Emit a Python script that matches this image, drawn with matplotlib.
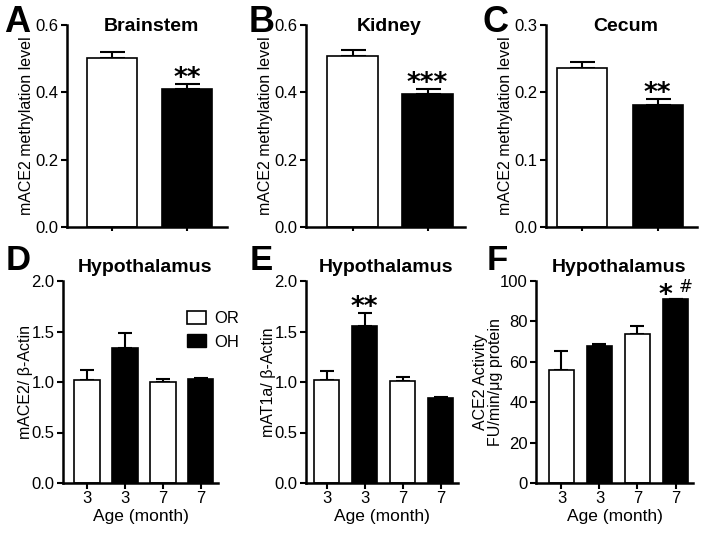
import matplotlib
matplotlib.use('Agg')
import matplotlib.pyplot as plt
from matplotlib.patches import Patch

plt.rcParams['font.family'] = ['Liberation Sans', 'DejaVu Sans']

# top row: methylation level, OR vs OH
top_titles = ['Brainstem', 'Kidney', 'Cecum']
top_mean = [[0.502, 0.409], [0.509, 0.394], [0.236, 0.181]]
top_err = [[0.017, 0.016], [0.017, 0.015], [0.009, 0.009]]
top_stars = ['**', '***', '**']
top_ymax = [0.6, 0.6, 0.3]
top_yticks = [[0.0, 0.2, 0.4, 0.6], [0.0, 0.2, 0.4, 0.6], [0.0, 0.1, 0.2, 0.3]]

# bottom row: hypothalamus by age
ages = ['3', '3', '7', '7']
bot_ylabels = ['mACE2/ β-Actin', 'mAT1a/ β-Actin', 'ACE2 Activity\nFU/min/μg protein']
bot_mean = [[1.016, 1.337, 1.000, 1.033],
            [1.023, 1.558, 1.007, 0.845],
            [55.7, 67.6, 73.6, 90.9]]
bot_err = [[0.099, 0.151, 0.026, 0.007],
           [0.086, 0.128, 0.043, 0.010],
           [9.6, 1.3, 4.1, 0.3]]
bot_ymax = [2.0, 2.0, 100]
bot_yticks = [[0.0, 0.5, 1.0, 1.5, 2.0], [0.0, 0.5, 1.0, 1.5, 2.0], [0, 20, 40, 60, 80, 100]]

W, H = 704, 536
fig = plt.figure(figsize=(W / 100, H / 100), dpi=100)

def ax_px(x0, x1, y0, y1):
    return fig.add_axes([x0 / W, 1 - y1 / H, (x1 - x0) / W, (y1 - y0) / H])

def style(ax):
    for s in ['top', 'right']:
        ax.spines[s].set_visible(False)
    for s in ['left', 'bottom']:
        ax.spines[s].set_linewidth(1.8)
    ax.tick_params(width=1.5, length=4, pad=2, labelsize=12, direction='out')

def stars(ax, x, y, s, dy, size, dx=0, weight='semibold'):
    # significance marks, offset in points from top of error bar
    ax.annotate(s, xy=(x, y), xytext=(dx, dy), textcoords='offset points',
                ha='center', va='baseline', fontsize=size, family='DejaVu Sans',
                fontweight=weight, annotation_clip=False)

top_boxes = [(67, 227), (306, 465), (546, 697)]
top_xlim = [(-0.6, 1.53), (-0.62, 1.5), (-0.48, 1.52)]
letters_top = ['A', 'B', 'C']
letter_x_top = [4, 249, 482]

for i in range(3):
    ax = ax_px(top_boxes[i][0], top_boxes[i][1], 25, 227)
    style(ax)
    ax.bar([0, 1], top_mean[i], width=0.667, color=['white', 'black'],
           edgecolor='black', linewidth=1.2, zorder=2)
    ax.errorbar([0, 1], top_mean[i], yerr=[[0, 0], top_err[i]], fmt='none',
                ecolor='black', elinewidth=1.5, capsize=9, capthick=1.5, zorder=1)
    ax.set_xlim(*top_xlim[i])
    ax.set_ylim(0, top_ymax[i])
    ax.set_yticks(top_yticks[i])
    ax.set_yticklabels(['%.1f' % v for v in top_yticks[i]])
    ax.set_xticks([0, 1])
    ax.set_xticklabels(['', ''])
    ax.tick_params(axis='x', length=3)
    ax.set_ylabel('mACE2 methylation level', fontsize=11.5, labelpad=1)
    ax.annotate(top_titles[i], xy=(0.5, 1), xycoords='axes fraction', xytext=(3, -4.5),
                textcoords='offset points', ha='center', va='baseline',
                fontsize=14, fontweight='bold')
    stars(ax, 1, top_mean[i][1] + top_err[i][1], top_stars[i], -1.5, 19)
    fig.text(letter_x_top[i] / W, 1 - 32 / H, letters_top[i], fontsize=26,
             fontweight='bold', va='baseline', ha='left')

bot_boxes = [(63, 218), (306, 458), (536, 693)]
bot_xlim = [(-0.63, 3.46), (-0.54, 3.46), (-0.67, 3.46)]
bot_fmt = ['%.1f', '%.1f', '%d']
bot_pad = [-1, -1, -2]
letters_bot = ['D', 'E', 'F']
letter_x_bot = [6, 250, 487]
cols = ['white', 'black', 'white', 'black']

for i in range(3):
    ax = ax_px(bot_boxes[i][0], bot_boxes[i][1], 281, 483)
    style(ax)
    x = range(4)
    ax.bar(x, bot_mean[i], width=0.68, color=cols, edgecolor='black',
           linewidth=1.2, zorder=2)
    ax.errorbar(x, bot_mean[i], yerr=[[0] * 4, bot_err[i]], fmt='none',
                ecolor='black', elinewidth=1.5, capsize=5, capthick=1.5, zorder=1)
    ax.set_xlim(*bot_xlim[i])
    ax.set_ylim(0, bot_ymax[i])
    ax.set_yticks(bot_yticks[i])
    ax.set_yticklabels([bot_fmt[i] % v for v in bot_yticks[i]])
    ax.set_xticks(list(x))
    ax.set_xticklabels(ages)
    ax.set_xlabel('Age (month)', fontsize=12.5, labelpad=2)
    ax.set_ylabel(bot_ylabels[i], fontsize=11.5, labelpad=bot_pad[i], linespacing=1.0)
    ax.annotate('Hypothalamus', xy=(0.5, 1), xycoords='axes fraction', xytext=(3, 6.5),
                textcoords='offset points', ha='center', va='baseline',
                fontsize=14, fontweight='bold')
    fig.text(letter_x_bot[i] / W, 1 - 270 / H, letters_bot[i], fontsize=25,
             fontweight='bold', va='baseline', ha='left')
    if i == 0:
        ax.legend(handles=[Patch(facecolor='white', edgecolor='black', linewidth=1.2),
                           Patch(facecolor='black', edgecolor='black')],
                  labels=['OR', 'OH'], loc='upper left', bbox_to_anchor=(0.76, 0.885),
                  frameon=False, fontsize=12, handlelength=1.1, handleheight=0.8,
                  handletextpad=0.5, labelspacing=0.5, borderaxespad=0)
    if i == 1:
        stars(ax, 1, bot_mean[i][1] + bot_err[i][1], '**', -1.5, 19)
    if i == 2:
        top = bot_mean[i][3] + bot_err[i][3]
        stars(ax, 3, top, '*', -3, 19, dx=-7)
        stars(ax, 3, top, '#', 5, 12, dx=7, weight='normal')

fig.savefig('out.png', dpi=100)
